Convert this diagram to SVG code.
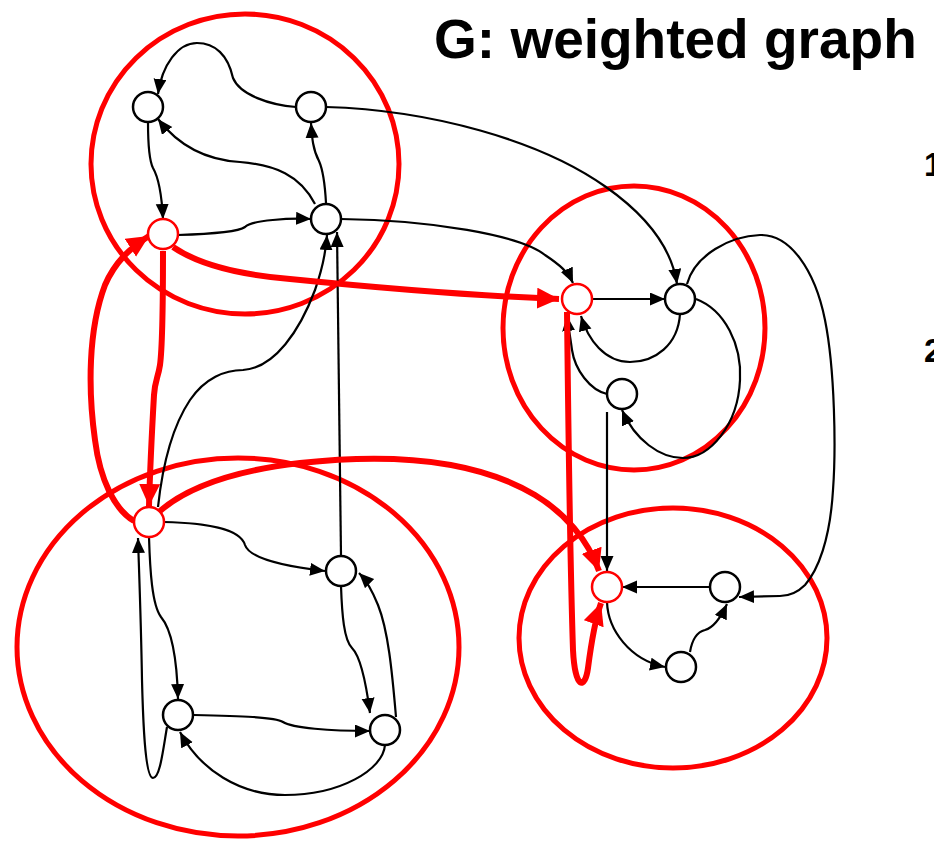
<svg xmlns="http://www.w3.org/2000/svg" width="934" height="845" viewBox="0 0 934 845">
<style>
.cl{fill:none;stroke:#ff0000;stroke-width:5}
.n{fill:#fff;stroke:#000;stroke-width:2.5}
.nr{fill:#fff;stroke:#ff0000;stroke-width:2.5}
.e{fill:none;stroke:#000;stroke-width:2.2;marker-end:url(#ab)}
.r{fill:none;stroke:#ff0000;stroke-width:6;marker-end:url(#ar)}
.t{font-family:"Liberation Sans",Arial,sans-serif;font-weight:bold;fill:#000}
</style>
<defs>
<marker id="ab" markerUnits="userSpaceOnUse" markerWidth="16" markerHeight="14" refX="15" refY="6.5" orient="auto"><path d="M0,0 L15,6.5 L0,13 z" fill="#000"/></marker>
<marker id="ar" markerUnits="userSpaceOnUse" markerWidth="23" markerHeight="22" refX="22" refY="10.5" orient="auto"><path d="M0,0 L22,10.5 L0,21 z" fill="#ff0000"/></marker>
</defs>
<rect width="934" height="845" fill="#fff"/>
<text class="t" x="434" y="58" font-size="55">G: weighted graph</text>
<text class="t" x="924" y="176" font-size="33">1</text>
<text class="t" x="924" y="362" font-size="33">2</text>
<g id="clusters">
<ellipse class="cl" cx="245" cy="164" rx="154" ry="150"/>
<ellipse class="cl" cx="634" cy="328" rx="131" ry="142"/>
<ellipse class="cl" cx="673" cy="638" rx="154" ry="130"/>
<ellipse class="cl" cx="238" cy="647" rx="221" ry="189"/>
</g>
<g id="connectors">
<path class="e" d="M296,107 C270,105 240,95 233,78 C228,55 215,43 197,43 C178,43 162,65 158,94"/>
<path class="e" d="M148,122 C148,140 149,160 153,168 C160,180 162,200 163,219"/>
<path class="e" d="M315,204 C300,175 275,165 240,162 C205,160 178,145 158,119"/>
<path class="e" d="M326,203 C325,185 323,170 319,161 C313,150 312,138 311,123"/>
<path class="e" d="M178,235 C210,234 238,232 245,227 C252,220 290,218 311,219"/>
<path class="e" d="M326,107 C430,110 540,140 606,187 C650,218 672,250 677,284"/>
<path class="e" d="M341,219 C430,220 520,235 545,255 C560,265 568,272 573,283"/>
<path class="e" d="M158,507 C162,470 170,430 190,400 C205,378 225,370 243,370 C275,368 300,330 315,290 C322,270 326,250 327,235"/>
<path class="e" d="M341,556 C340,440 338,330 337,232"/>
<path class="e" d="M592,299 L665,299"/>
<path class="e" d="M680,314 C678,345 655,362 630,362 C605,362 588,340 581,316"/>
<path class="e" d="M607,394 C590,390 575,370 572,350 C570,335 568,325 567,316"/>
<path class="e" d="M696,299 C725,310 742,345 740,380 C738,425 710,458 683,458 C660,458 635,440 622,410"/>
<path class="e" d="M687,284 C695,255 730,236 760,235 C790,234 815,270 825,320 C835,370 836,450 833,490 C830,540 818,570 805,585 C798,592 790,596 780,596 L739,597"/>
<path class="e" d="M607,412 L607,571"/>
<path class="e" d="M710,587 L622,587"/>
<path class="e" d="M607,602 C608,630 630,660 665,667"/>
<path class="e" d="M690,652 C692,640 697,632 705,630 C715,627 722,615 727,604"/>
<path class="e" d="M164,522 C205,523 240,528 245,545 C250,560 290,567 325,571"/>
<path class="e" d="M149,537 C150,570 152,605 161,617 C172,630 177,660 178,699"/>
<path class="e" d="M167,727 C163,750 160,778 153,778 C145,778 143,720 142,680 C141,620 139,570 138,538"/>
<path class="e" d="M341,586 C342,615 344,640 352,648 C362,658 367,690 370,713"/>
<path class="e" d="M396,717 C392,670 388,630 378,605 C372,590 366,580 359,573"/>
<path class="e" d="M194,715 C240,716 275,717 283,722 C292,728 330,731 370,731"/>
<path class="e" d="M385,745 C383,770 340,795 285,795 C240,795 200,770 180,732"/>
<path class="r" d="M173,247 C195,262 230,274 290,279 C380,288 480,296 559,299"/>
<path class="r" d="M163,251 C163,300 162,350 160,365 C158,378 155,380 154,395 C152,430 150,470 149,506"/>
<path class="r" d="M134,521 C115,510 100,480 95,440 C88,390 88,330 105,285 C115,262 130,248 149,236"/>
<path class="r" d="M160,511 C190,485 240,470 300,463 C400,452 480,462 535,495 C565,513 588,540 599,571"/>
<path class="r" d="M567,312 C568,400 570,560 573,650 C575,690 585,690 588,668 C591,645 595,620 601,603"/>
</g>
<g id="A"><circle class="n" cx="148" cy="107" r="15"/></g>
<g id="B"><circle class="n" cx="311" cy="107" r="15"/></g>
<g id="C"><circle class="nr" cx="163" cy="234" r="15"/></g>
<g id="D"><circle class="n" cx="326" cy="219" r="15"/></g>
<g id="E"><circle class="nr" cx="577" cy="299" r="15"/></g>
<g id="F"><circle class="n" cx="680" cy="299" r="15"/></g>
<g id="G"><circle class="n" cx="622" cy="394" r="15"/></g>
<g id="H"><circle class="nr" cx="607" cy="587" r="15"/></g>
<g id="I"><circle class="n" cx="725" cy="587" r="15"/></g>
<g id="J"><circle class="n" cx="681" cy="667" r="15"/></g>
<g id="K"><circle class="nr" cx="149" cy="522" r="15"/></g>
<g id="L"><circle class="n" cx="341" cy="571" r="15"/></g>
<g id="M"><circle class="n" cx="178" cy="715" r="15"/></g>
<g id="N"><circle class="n" cx="385" cy="730" r="15"/></g>
</svg>
